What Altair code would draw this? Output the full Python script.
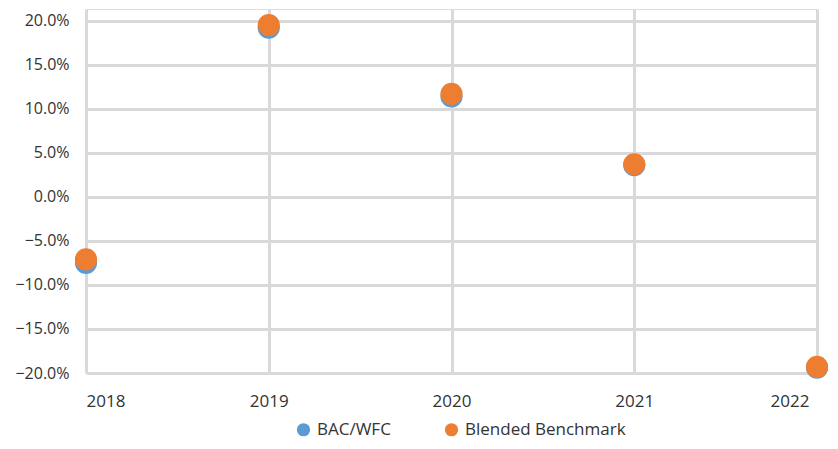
import altair as alt
import pandas as pd

years = [2018, 2019, 2020, 2021, 2022]
bac_wfc = [-0.075, 0.192, 0.114, 0.036, -0.194]
benchmark = [-0.071, 0.195, 0.117, 0.037, -0.193]
series_names = ["BAC/WFC", "Blended Benchmark"]
colors = ["#5B9BD5", "#ED7D31"]

rows = []
for y, v in zip(years, bac_wfc):
    rows.append({"Year": y, "Return": v, "Series": series_names[0], "order": 0})
for y, v in zip(years, benchmark):
    rows.append({"Year": y, "Return": v, "Series": series_names[1], "order": 1})
df = pd.DataFrame(rows)

FONT = "Open Sans"
TXT = "#333333"

chart = alt.Chart(df).mark_circle(size=490, opacity=1).encode(
    x=alt.X("Year:Q",
            scale=alt.Scale(domain=[2018, 2022], nice=False, zero=False),
            axis=alt.Axis(values=years, format="d", title=None, grid=True,
                          gridColor="#d9d9d9", gridWidth=3, domain=False,
                          ticks=False, labelPadding=20, labelFontSize=17,
                          labelOffset=alt.expr("datum.value == 2022 ? -8 : 0"),
                          labelColor=TXT, labelFont=FONT)),
    y=alt.Y("Return:Q",
            scale=alt.Scale(domain=[-0.2, 0.2133], nice=False, zero=False),
            axis=alt.Axis(values=[-0.2, -0.15, -0.1, -0.05, 0, 0.05, 0.1, 0.15, 0.2],
                          format=".1%", title=None, grid=True,
                          gridColor="#d9d9d9", gridWidth=3, domain=False,
                          ticks=False, labelPadding=17, labelFontSize=16,
                          labelColor=TXT, labelFont=FONT)),
    color=alt.Color("Series:N",
                    scale=alt.Scale(domain=series_names, range=colors),
                    legend=alt.Legend(title=None, orient="none", direction="horizontal",
                                      legendX=209, legendY=412,
                                      symbolType="circle", symbolSize=175,
                                      labelFontSize=17, labelFont=FONT,
                                      labelColor=TXT, columnPadding=52,
                                      labelLimit=400,
                                      labelOffset=5, symbolStrokeWidth=0)),
    order=alt.Order("order:Q"),
).properties(
    width=731, height=364,
    padding={"left": 78, "top": 1, "right": 13, "bottom": 68},
    autosize=alt.AutoSizeParams(type="none"),
).configure_view(stroke=None).configure(background="white")

chart.save("out.html", embed_options={"renderer": "svg", "actions": False})
